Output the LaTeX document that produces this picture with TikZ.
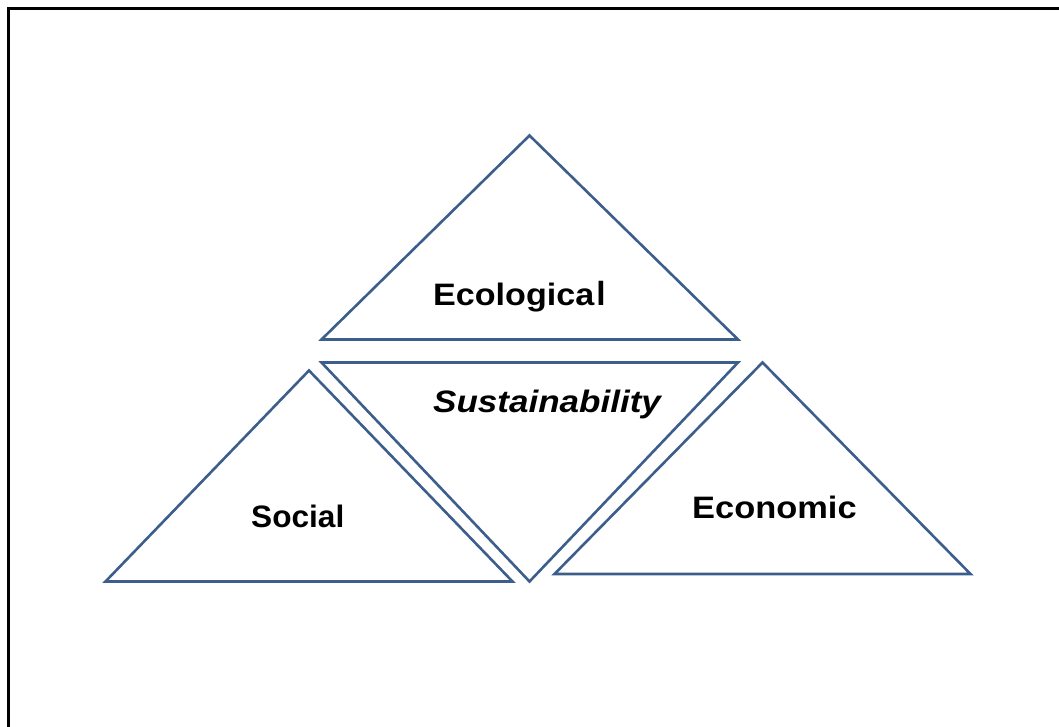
\documentclass[tikz,border=0pt]{standalone}
\usepackage{fontspec}
\setmainfont{Liberation Sans}
\usepackage{graphicx}
\definecolor{edgeblue}{HTML}{3B5E8C}
\begin{document}
\begin{tikzpicture}[x=1pt,y=-1pt,
  tri/.style={draw=edgeblue,line width=2.6pt,line join=miter},
  frameline/.style={draw=black,line width=2.6pt},
  lbl/.style={inner sep=0pt,anchor=base west,font=\bfseries\fontsize{31}{31}\selectfont}]
\useasboundingbox[fill=white] (0,0) rectangle (1059,727);
% frame
\draw[frameline] (1059,8.5) -- (8.5,8.5) -- (8.5,727);
% ecological (upright, top)
\draw[tri] (529.5,135.5) -- (738,339.5) -- (321.5,339.5) -- cycle;
% sustainability (inverted, centre)
\draw[tri] (321.5,362.5) -- (738,362.5) -- (529.5,581.5) -- cycle;
% social (upright, left)
\draw[tri] (309,370.5) -- (512.5,581.5) -- (105.5,581.5) -- cycle;
% economic (upright, right)
\draw[tri] (762.5,362.5) -- (970.5,574) -- (554.5,574) -- cycle;
% labels
\node[lbl] (eco) at (433,305) {\scalebox{1.1}[1]{Ecologica}\kern2pt\scalebox{1.08}{l}};
\node[lbl] (sus) at (433,412) {\scalebox{1.13}[1]{\itshape Sustainability}};
\node[lbl] (soc) at (251,527) {\scalebox{1.02}[1]{Social}};
\node[lbl] (ecn) at (692,518) {\scalebox{1.11}[1]{Economic}};
\end{tikzpicture}
\end{document}
